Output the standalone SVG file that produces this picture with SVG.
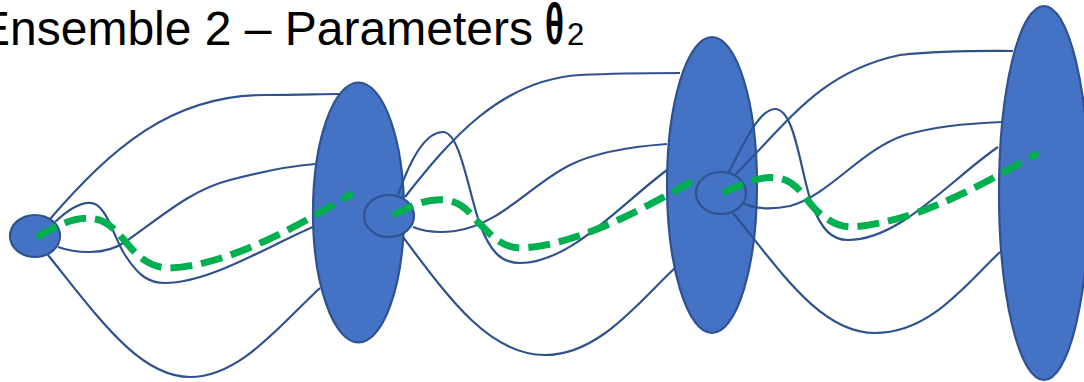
<svg xmlns="http://www.w3.org/2000/svg" width="1084" height="382" viewBox="0 0 1084 382">
<style>
.node{fill:#4472C4;stroke:#2F528F;stroke-width:2.2}
.edge{fill:none;stroke:#2F528F;stroke-width:2.2}
.path{fill:none;stroke:#00B050;stroke-width:7;stroke-dasharray:22 9}
.title{font-family:"Liberation Sans",Arial,sans-serif;font-size:48px;fill:#000}
</style>
<rect width="1084" height="382" fill="#fff"/>
<g id="title">
<text class="title" x="-22" y="45">Ensemble 2 – Parameters</text>
<text class="title" x="545" y="44" style="font-weight:bold;font-size:58px" textLength="19" lengthAdjust="spacingAndGlyphs">θ</text>
<text class="title" x="567" y="45" style="font-size:31px">2</text>
</g>
<g id="nodes">
<g id="big1"><ellipse class="node" cx="358.5" cy="212.5" rx="45.5" ry="130"/></g>
<g id="big2"><ellipse class="node" cx="712" cy="185" rx="45" ry="148"/></g>
<g id="big3"><ellipse class="node" cx="1044" cy="193" rx="45" ry="187"/></g>
<g id="small1"><ellipse class="node" cx="35" cy="236" rx="25" ry="21"/></g>
<g id="small2"><ellipse class="node" cx="389" cy="216" rx="25" ry="21"/></g>
<g id="small3"><ellipse class="node" cx="721" cy="193" rx="25" ry="21"/></g>
</g>
<g id="connectors">
<path class="edge" d="M50,219 C110,150 170,95 265,95 C300,95 320,94 340,94"/>
<path class="edge" d="M58,247 C75,253 105,256 125,242 C160,218 190,190 230,180 C260,172 290,166 315,164"/>
<path class="edge" d="M55,222 C70,208 85,200 95,204 C108,210 115,240 125,255 C138,275 148,283 165,283 C210,283 270,245 313,227"/>
<path class="edge" d="M48,255 C100,320 140,377 190,377 C240,377 280,325 320,288"/>
<path class="edge" d="M405,197 C450,140 500,80 580,75 C620,73 650,73 680,73"/>
<path class="edge" d="M413,227 C425,232 440,233 455,231 C500,225 530,185 570,165 C600,150 640,146 667,144"/>
<path class="edge" d="M398,195 C410,160 425,132 443,132 C460,132 468,190 480,225 C490,250 500,263 520,263 C570,263 620,205 667,170"/>
<path class="edge" d="M403,237 C450,300 490,355 545,355 C600,355 640,300 675,268"/>
<path class="edge" d="M735,175 C790,120 820,72 900,55 C950,50 990,51 1013,51"/>
<path class="edge" d="M743,203 C755,209 770,210 790,206 C830,195 860,150 905,135 C940,125 975,123 1002,122"/>
<path class="edge" d="M728,174 C745,140 760,109 775,109 C795,109 800,170 812,205 C822,230 832,240 848,240 C900,240 950,180 998,147"/>
<path class="edge" d="M733,213 C780,270 820,333 875,333 C930,333 965,285 1000,252"/>
<path class="path" d="M37,237 C55,227 75,215 95,219 C115,222 125,245 140,257 C150,265 160,268 170,268 C230,265 300,225 353,193"/>
<path class="path" d="M393,215 C410,207 425,198 445,200 C465,202 470,215 482,226 C495,240 505,248 522,248 C580,245 650,205 700,177"/>
<path class="path" d="M723,193 C740,185 760,175 778,178 C798,181 805,200 818,212 C830,222 840,227 852,227 C920,222 990,180 1038,153"/>
</g>
</svg>
